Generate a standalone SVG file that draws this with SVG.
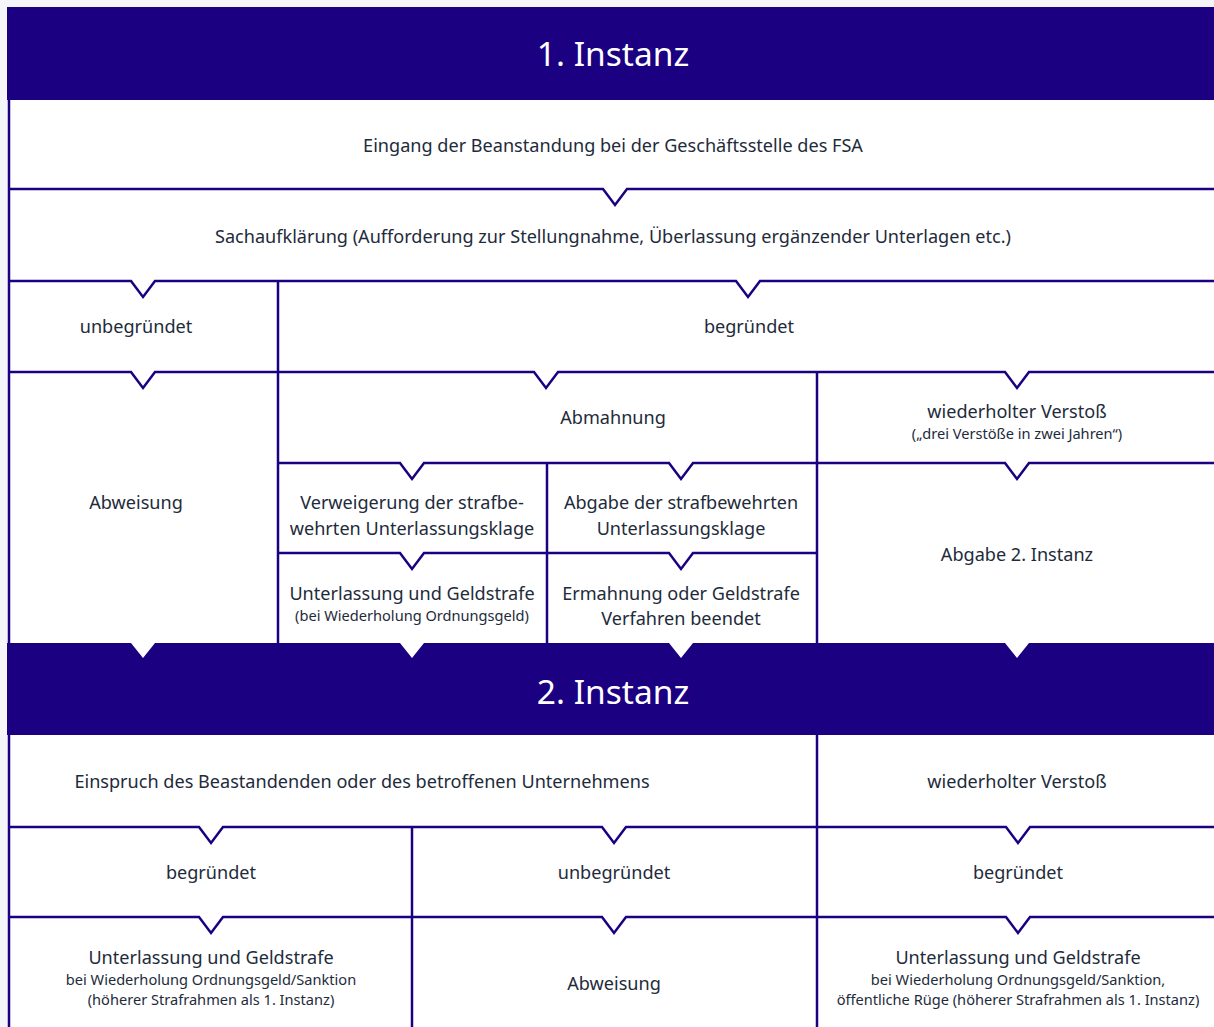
<svg xmlns="http://www.w3.org/2000/svg" width="1214" height="1027" viewBox="0 0 1214 1027">
<style>
.bg{fill:#f5f6fa}
.cell{fill:#ffffff}
.hdr{fill:#1b0082}
.ln{fill:none;stroke:#1b0082;stroke-width:2.5;stroke-linejoin:miter}
.t{font-family:"Noto Sans","Open Sans",sans-serif;font-size:18.1px;fill:#1e2b3b;text-anchor:middle}
.s{font-family:"Noto Sans","Open Sans",sans-serif;font-size:14.6px;fill:#1e2b3b;text-anchor:middle}
.h{font-family:"Noto Sans","Open Sans",sans-serif;font-size:33.5px;fill:#ffffff;text-anchor:middle}
.wn{fill:#ffffff}
</style>
<rect class="bg" x="0" y="0" width="1214" height="1027"/>
<rect class="cell" x="9" y="100" width="1205" height="927"/>

<g id="header1">
<rect class="hdr" x="7" y="7" width="1207" height="93"/>
<text class="h" x="613" y="66">1. Instanz</text>
</g>
<g id="eingang"><text class="t" x="613" y="152">Eingang der Beanstandung bei der Geschäftsstelle des FSA</text></g>
<g id="sachaufklaerung"><text class="t" x="613" y="243">Sachaufklärung (Aufforderung zur Stellungnahme, Überlassung ergänzender Unterlagen etc.)</text></g>
<g id="unbegruendet1"><text class="t" x="136" y="333">unbegründet</text></g>
<g id="begruendet1"><text class="t" x="749" y="333">begründet</text></g>
<g id="abweisung1"><text class="t" x="136" y="509">Abweisung</text></g>
<g id="abmahnung"><text class="t" x="613" y="424">Abmahnung</text></g>
<g id="wiederholt1"><text class="t" x="1017" y="418">wiederholter Verstoß</text><text class="s" x="1017" y="439">(„drei Verstöße in zwei Jahren“)</text></g>
<g id="verweigerung"><text class="t" x="412" y="509">Verweigerung der strafbe-</text><text class="t" x="412" y="535">wehrten Unterlassungsklage</text></g>
<g id="abgabe"><text class="t" x="681" y="509">Abgabe der strafbewehrten</text><text class="t" x="681" y="535">Unterlassungsklage</text></g>
<g id="abgabe2"><text class="t" x="1017" y="561">Abgabe 2. Instanz</text></g>
<g id="unterlassung1"><text class="t" x="412" y="600">Unterlassung und Geldstrafe</text><text class="s" x="412" y="621">(bei Wiederholung Ordnungsgeld)</text></g>
<g id="ermahnung"><text class="t" x="681" y="600">Ermahnung oder Geldstrafe</text><text class="t" x="681" y="625">Verfahren beendet</text></g>

<g id="header2">
<rect class="hdr" x="7" y="643" width="1207" height="92"/>
<text class="h" x="613" y="704">2. Instanz</text>
</g>
<g id="einspruch"><text class="t" x="362" y="788">Einspruch des Beastandenden oder des betroffenen Unternehmens</text></g>
<g id="wiederholt2"><text class="t" x="1017" y="788">wiederholter Verstoß</text></g>
<g id="begruendet2"><text class="t" x="211" y="879">begründet</text></g>
<g id="unbegruendet2"><text class="t" x="614" y="879">unbegründet</text></g>
<g id="begruendet3"><text class="t" x="1018" y="879">begründet</text></g>
<g id="unterlassung2"><text class="t" x="211" y="964">Unterlassung und Geldstrafe</text><text class="s" x="211" y="985">bei Wiederholung Ordnungsgeld/Sanktion</text><text class="s" x="211" y="1005">(höherer Strafrahmen als 1. Instanz)</text></g>
<g id="abweisung2"><text class="t" x="614" y="990">Abweisung</text></g>
<g id="unterlassung3"><text class="t" x="1018" y="964">Unterlassung und Geldstrafe</text><text class="s" x="1018" y="985">bei Wiederholung Ordnungsgeld/Sanktion,</text><text class="s" x="1018" y="1005">öffentliche Rüge (höherer Strafrahmen als 1. Instanz)</text></g>

<g id="connectors">
<path class="ln" d="M9,189 H603 L615,205 L627,189 H1214"/>
<path class="ln" d="M9,281 H131 L143,297 L155,281 H736 L748,297 L760,281 H1214"/>
<path class="ln" d="M9,372 H131 L143,388 L155,372 H534 L546,388 L558,372 H1005 L1017,388 L1029,372 H1214"/>
<path class="ln" d="M278,463 H400 L412,479 L424,463 H669 L681,479 L693,463 H1005 L1017,479 L1029,463 H1214"/>
<path class="ln" d="M278,553 H400 L412,569 L424,553 H669 L681,569 L693,553 H817"/>
<path class="ln" d="M9,827 H199 L211,843 L223,827 H602 L614,843 L626,827 H1006 L1018,843 L1030,827 H1214"/>
<path class="ln" d="M9,917 H199 L211,933 L223,917 H602 L614,933 L626,917 H1006 L1018,933 L1030,917 H1214"/>
<path class="ln" d="M9,100 V643 M9,735 V1027 M278,281 V643 M817,372 V643 M817,735 V1027 M547,463 V643 M412,827 V1027"/>
<polygon class="wn" points="131,643 155,643 143,658"/>
<polygon class="wn" points="400,643 424,643 412,658"/>
<polygon class="wn" points="669,643 693,643 681,658"/>
<polygon class="wn" points="1005,643 1029,643 1017,658"/>
</g>
</svg>
